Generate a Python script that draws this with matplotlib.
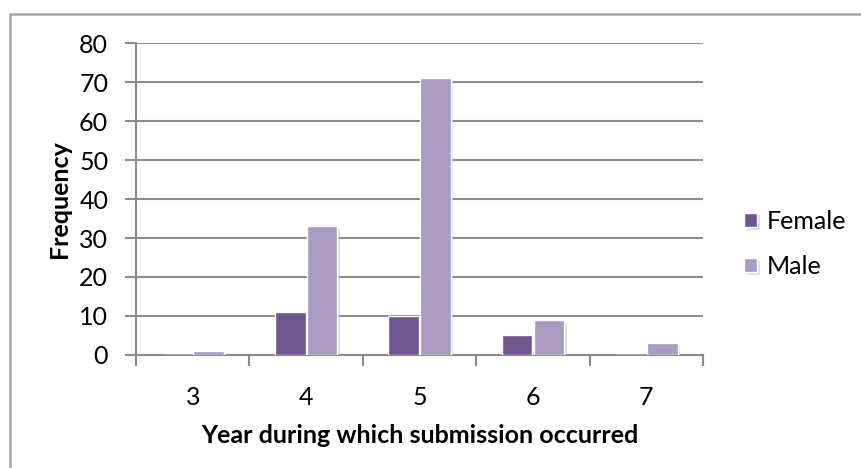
import matplotlib.pyplot as plt
import matplotlib.patches as mpatches
import matplotlib.patheffects as pe
import numpy as np

years = ["3", "4", "5", "6", "7"]
female = [0, 11, 10, 5, 0]
male = [1, 33, 71, 9, 3]

c_female = "#70568f"
c_male = "#a99bc1"
grid_c = "#8c8c8c"

plt.rcParams["font.family"] = ["Lato", "DejaVu Sans"]
fs = 18

fig = plt.figure(figsize=(8.62, 4.68), dpi=100)
ax = fig.add_axes([0.1578, 0.2415, 0.8156 - 0.1578, 0.908 - 0.2415])

# chart border (left and top edges show)
fig.patches.append(mpatches.Rectangle((10 / 862, -0.1), 1.2, 1 - 14 / 468 + 0.1,
                                      transform=fig.transFigure, fill=False,
                                      edgecolor="#a6a6a6", lw=1.8))

x = np.arange(len(years))
w = 0.27
shadow = [pe.SimplePatchShadow(offset=(2, -2), shadow_rgbFace="#c8c8c8", alpha=0.6), pe.Normal()]
b1 = ax.bar(x - 0.14, female, w, color=c_female, edgecolor="white", lw=1, label="Female", zorder=3)
b2 = ax.bar(x + 0.14, male, w, color=c_male, edgecolor="white", lw=1, label="Male", zorder=3)
for b in list(b1) + list(b2):
    b.set_path_effects(shadow)

ax.set_xlim(-0.5, 4.5)
ax.set_ylim(0, 80)
ax.set_yticks(range(0, 81, 10))
ax.yaxis.grid(True, color=grid_c, lw=1.5, zorder=0)
ax.set_axisbelow(True)

ax.set_xticks(x)
ax.set_xticklabels(years)
ax.set_xticks(np.arange(-0.5, 4.6, 1), minor=True)
ax.tick_params(axis="x", which="major", length=0, pad=22, labelsize=fs)
ax.tick_params(axis="x", which="minor", length=8, width=1.5, color=grid_c)
ax.tick_params(axis="y", length=8, width=1.5, color=grid_c, labelsize=fs, pad=12)

for s in ["top", "right"]:
    ax.spines[s].set_visible(False)
for s in ["left", "bottom"]:
    ax.spines[s].set_color(grid_c)
    ax.spines[s].set_linewidth(1.5)

ax.set_ylabel("Frequency", fontsize=fs, fontweight="bold", labelpad=6)
ax.set_xlabel("Year during which submission occurred", fontsize=fs, fontweight="bold", labelpad=11)

ax.legend(loc="center left", bbox_to_anchor=(1.055, 0.356), frameon=False, fontsize=fs,
          handlelength=0.5, handleheight=0.5, handletextpad=0.4, labelspacing=0.9,
          borderaxespad=0)

fig.savefig("out.png", dpi=100)
